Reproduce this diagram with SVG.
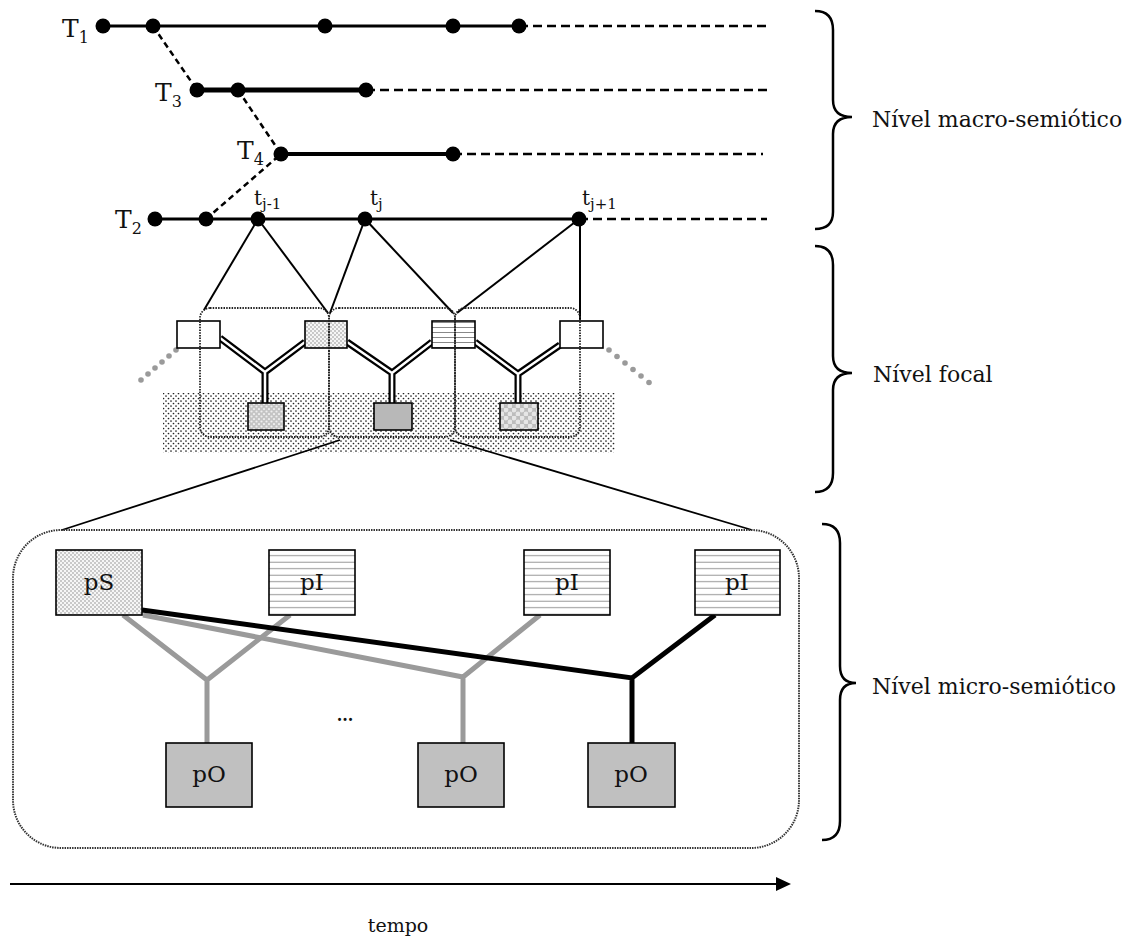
<svg xmlns="http://www.w3.org/2000/svg" width="1148" height="941" viewBox="0 0 1148 941">
<style>
  .txt { font-family: "DejaVu Serif", "Liberation Serif", serif; fill: #111; }
  .solid { stroke: #000; fill: none; }
  .dash { stroke: #000; stroke-width: 2.5; stroke-dasharray: 9 5; fill: none; }
  .ddiag { stroke: #000; stroke-width: 2.5; stroke-dasharray: 6 4; fill: none; }
  .dot { fill: #000; }
  .thin { stroke: #000; stroke-width: 2; fill: none; }
  .frame { fill: none; stroke: #222; stroke-width: 1.8; stroke-dasharray: 1.5 1.2; }
  .box { stroke: #000; stroke-width: 1.6; }
  .rail-o { stroke: #000; stroke-width: 7; fill: none; stroke-linejoin: miter; }
  .rail-i { stroke: #fff; stroke-width: 2.5; fill: none; stroke-linejoin: miter; }
  .gray { stroke: #9a9a9a; stroke-width: 5; fill: none; stroke-linejoin: miter; }
  .black { stroke: #000; stroke-width: 5; fill: none; stroke-linejoin: miter; }
  .brace { stroke: #000; stroke-width: 2.5; fill: none; }
  .gdot { fill: #9a9a9a; }
</style>
<defs>
  <pattern id="stip" width="5" height="5" patternUnits="userSpaceOnUse">
    <rect width="5" height="5" fill="#fff"/>
    <circle cx="1" cy="1" r="0.85" fill="#222"/>
    <circle cx="3.5" cy="3.5" r="0.85" fill="#222"/>
  </pattern>
  <pattern id="ltdots" width="4" height="4" patternUnits="userSpaceOnUse">
    <rect width="4" height="4" fill="#f6f6f6"/>
    <circle cx="1" cy="1" r="0.9" fill="#b4b4b4"/>
    <circle cx="3" cy="3" r="0.9" fill="#b4b4b4"/>
  </pattern>
  <pattern id="grdots" width="5" height="5" patternUnits="userSpaceOnUse">
    <rect width="5" height="5" fill="#c4c4c4"/>
    <circle cx="1.5" cy="1.5" r="1.1" fill="#eee"/>
    <circle cx="4" cy="4" r="1.1" fill="#eee"/>
  </pattern>
  <pattern id="grcirc" width="8" height="8" patternUnits="userSpaceOnUse">
    <rect width="8" height="8" fill="#bdbdbd"/>
    <circle cx="2" cy="2" r="2.4" fill="#e6e6e6"/>
    <circle cx="6" cy="6" r="2.4" fill="#e6e6e6"/>
  </pattern>
  <pattern id="hl" width="10" height="5" patternUnits="userSpaceOnUse">
    <rect width="10" height="5" fill="#fff"/>
    <line x1="0" y1="2.5" x2="10" y2="2.5" stroke="#888" stroke-width="1"/>
  </pattern>
  <pattern id="hl2" width="10" height="6.5" patternUnits="userSpaceOnUse">
    <rect width="10" height="6.5" fill="#fff"/>
    <line x1="0" y1="3.2" x2="10" y2="3.2" stroke="#999" stroke-width="1"/>
  </pattern>
</defs>

<rect width="1148" height="941" fill="#fff"/>

<!-- stippled background of the focal level -->
<rect id="focal-ground" x="163" y="393" width="452" height="60" fill="url(#stip)"/>

<!-- connectors -->
<g id="connectors">
  <!-- macro timelines -->
  <line class="dash" x1="519" y1="26" x2="767" y2="26"/>
  <line class="dash" x1="366" y1="90" x2="767" y2="90"/>
  <line class="dash" x1="453" y1="154" x2="763" y2="154"/>
  <line class="dash" x1="579" y1="219" x2="767" y2="219"/>
  <line class="ddiag" x1="153" y1="26" x2="197" y2="90"/>
  <line class="ddiag" x1="238" y1="90" x2="281" y2="154"/>
  <line class="ddiag" x1="206" y1="219" x2="281" y2="154"/>
  <line class="solid" stroke-width="3" x1="103" y1="26" x2="519" y2="26"/>
  <line class="solid" stroke-width="5" x1="197" y1="90" x2="366" y2="90"/>
  <line class="solid" stroke-width="4" x1="281" y1="154" x2="453" y2="154"/>
  <line class="solid" stroke-width="3" x1="155" y1="219" x2="579" y2="219"/>

  <!-- t_j lines to focal level -->
  <line class="thin" x1="258" y1="219" x2="204" y2="310"/>
  <line class="thin" x1="258" y1="219" x2="328" y2="313"/>
  <line class="thin" x1="365" y1="219" x2="330" y2="313"/>
  <line class="thin" x1="365" y1="219" x2="453" y2="313"/>
  <line class="thin" x1="579" y1="219" x2="457" y2="313"/>
  <line class="thin" x1="580" y1="219" x2="580" y2="320"/>

  <!-- focal rails -->
  <path class="rail-o" d="M220,338 L265,372 L305,342 M265,372 L265,403"/>
  <path class="rail-o" d="M347,342 L392,373 L432,342 M392,373 L392,403"/>
  <path class="rail-o" d="M475,342 L518,374 L560,345 M518,374 L518,403"/>
  <path class="rail-i" d="M220,338 L265,372 L305,342 M265,372 L265,403"/>
  <path class="rail-i" d="M347,342 L392,373 L432,342 M392,373 L392,403"/>
  <path class="rail-i" d="M475,342 L518,374 L560,345 M518,374 L518,403"/>

  <!-- gray dotted continuations -->
  <g class="gdot">
    <circle cx="176" cy="350" r="2.8"/><circle cx="169" cy="356" r="2.8"/><circle cx="162" cy="362" r="2.8"/>
    <circle cx="155" cy="368" r="2.8"/><circle cx="148" cy="374" r="2.8"/><circle cx="141" cy="380" r="2.8"/>
    <circle cx="609" cy="350" r="2.8"/><circle cx="617" cy="356.5" r="2.8"/><circle cx="625" cy="363" r="2.8"/>
    <circle cx="633" cy="369.5" r="2.8"/><circle cx="641" cy="376" r="2.8"/><circle cx="649" cy="382.5" r="2.8"/>
  </g>

  <!-- zoom lines -->
  <line class="solid" stroke-width="1.8" x1="340" y1="440" x2="62" y2="530"/>
  <line class="solid" stroke-width="1.8" x1="450" y1="440" x2="752" y2="530"/>

  <!-- micro connectors -->
  <path class="gray" d="M123,615 L207,680 L290,615 M207,680 L207,745"/>
  <path class="gray" d="M143,615 L463,677 L540,615 M463,677 L463,745"/>
  <path class="black" d="M142,610 L632,678 L715,615 M632,678 L632,745"/>

  <!-- time arrow -->
  <line class="solid" stroke-width="2" x1="10" y1="884" x2="780" y2="884"/>
  <polygon points="776,877 791,884 776,891" fill="#000"/>
</g>

<!-- macro dots -->
<g id="events">
  <circle class="dot" cx="103" cy="26" r="7.5"/><circle class="dot" cx="153" cy="26" r="7.5"/>
  <circle class="dot" cx="325" cy="26" r="7.5"/><circle class="dot" cx="453" cy="26" r="7.5"/>
  <circle class="dot" cx="519" cy="26" r="7.5"/>
  <circle class="dot" cx="197" cy="90" r="7.5"/><circle class="dot" cx="238" cy="90" r="7.5"/>
  <circle class="dot" cx="366" cy="90" r="7.5"/>
  <circle class="dot" cx="281" cy="154" r="7.5"/><circle class="dot" cx="453" cy="154" r="7.5"/>
  <circle class="dot" cx="155" cy="219" r="7.5"/><circle class="dot" cx="206" cy="219" r="7.5"/>
  <circle class="dot" cx="258" cy="219" r="7.5"/><circle class="dot" cx="365" cy="219" r="7.5"/>
  <circle class="dot" cx="579" cy="219" r="7.5"/>
</g>

<g id="T1"><text class="txt" x="62" y="37" font-size="25">T<tspan font-size="16" dy="6">1</tspan></text></g>
<g id="T3"><text class="txt" x="155" y="101" font-size="25">T<tspan font-size="16" dy="6">3</tspan></text></g>
<g id="T4"><text class="txt" x="237" y="159" font-size="25">T<tspan font-size="16" dy="6">4</tspan></text></g>
<g id="T2"><text class="txt" x="115" y="228" font-size="25">T<tspan font-size="16" dy="6">2</tspan></text></g>
<g id="tj-1"><text class="txt" x="254" y="205" font-size="20">t<tspan font-size="15" dy="4">j-1</tspan></text></g>
<g id="tj"><text class="txt" x="370" y="205" font-size="20">t<tspan font-size="15" dy="4">j</tspan></text></g>
<g id="tj+1"><text class="txt" x="582" y="205" font-size="20">t<tspan font-size="15" dy="4">j+1</tspan></text></g>

<!-- focal boxes -->
<g id="focal-A"><rect class="box" x="177" y="321" width="43" height="27" fill="#fff"/></g>
<g id="focal-B"><rect class="box" x="305" y="321" width="42" height="27" fill="url(#ltdots)"/></g>
<g id="focal-C"><rect class="box" x="432" y="321" width="43" height="27" fill="url(#hl)"/></g>
<g id="focal-D"><rect class="box" x="560" y="321" width="43" height="27" fill="#fff"/></g>
<g id="focal-E"><rect class="box" x="248" y="403" width="36" height="27" fill="url(#grdots)"/></g>
<g id="focal-F"><rect class="box" x="374" y="403" width="38" height="27" fill="#b8b8b8"/></g>
<g id="focal-G"><rect class="box" x="500" y="403" width="38" height="27" fill="url(#grcirc)"/></g>

<!-- focal frames -->
<g id="focal-frames">
  <rect class="frame" x="200" y="308" width="129" height="129" rx="10"/>
  <rect class="frame" x="329" y="308" width="126" height="129" rx="10"/>
  <rect class="frame" x="455" y="308" width="125" height="129" rx="10"/>
</g>

<!-- micro frame -->
<g id="micro-frame"><rect x="13" y="530" width="786" height="318" rx="48" fill="none" stroke="#333" stroke-width="2" stroke-dasharray="1.5 1"/></g>

<!-- micro nodes -->
<g id="pS"><rect class="box" x="56" y="550" width="86" height="65" fill="url(#ltdots)"/><text class="txt" x="99" y="590" font-size="23" text-anchor="middle">pS</text></g>
<g id="pI-1"><rect class="box" x="269" y="550" width="86" height="65" fill="url(#hl2)"/><text class="txt" x="312" y="590" font-size="23" text-anchor="middle">pI</text></g>
<g id="pI-2"><rect class="box" x="524" y="550" width="86" height="65" fill="url(#hl2)"/><text class="txt" x="567" y="590" font-size="23" text-anchor="middle">pI</text></g>
<g id="pI-3"><rect class="box" x="695" y="550" width="85" height="65" fill="url(#hl2)"/><text class="txt" x="737" y="590" font-size="23" text-anchor="middle">pI</text></g>
<g id="pO-1"><rect class="box" x="166" y="743" width="86" height="64" fill="#c0c0c0"/><text class="txt" x="209" y="782" font-size="23" text-anchor="middle">pO</text></g>
<g id="pO-2"><rect class="box" x="418" y="743" width="86" height="64" fill="#c0c0c0"/><text class="txt" x="461" y="782" font-size="23" text-anchor="middle">pO</text></g>
<g id="pO-3"><rect class="box" x="588" y="743" width="87" height="64" fill="#c0c0c0"/><text class="txt" x="631" y="782" font-size="23" text-anchor="middle">pO</text></g>
<g id="ellipsis"><text class="txt" x="345" y="721" font-size="16" font-weight="bold" text-anchor="middle">...</text></g>

<!-- braces and level labels -->
<g id="level-macro">
  <path class="brace" d="M815,11 Q833,11 833,30 L833,100 Q833,117 852,117 Q833,117 833,134 L833,212 Q833,229 815,229"/>
  <text class="txt" x="872" y="127" font-size="22">Nível macro-semiótico</text>
</g>
<g id="level-focal">
  <path class="brace" d="M815,246 Q833,246 833,265 L833,356 Q833,373 852,373 Q833,373 833,390 L833,473 Q833,492 815,492"/>
  <text class="txt" x="873" y="382" font-size="22">Nível focal</text>
</g>
<g id="level-micro">
  <path class="brace" d="M822,524 Q840,524 840,543 L840,666 Q840,683 856,683 Q840,683 840,700 L840,821 Q840,840 822,840"/>
  <text class="txt" x="872" y="694" font-size="22">Nível micro-semiótico</text>
</g>
<g id="time-label"><text class="txt" x="398" y="932" font-size="19" text-anchor="middle">tempo</text></g>
</svg>
